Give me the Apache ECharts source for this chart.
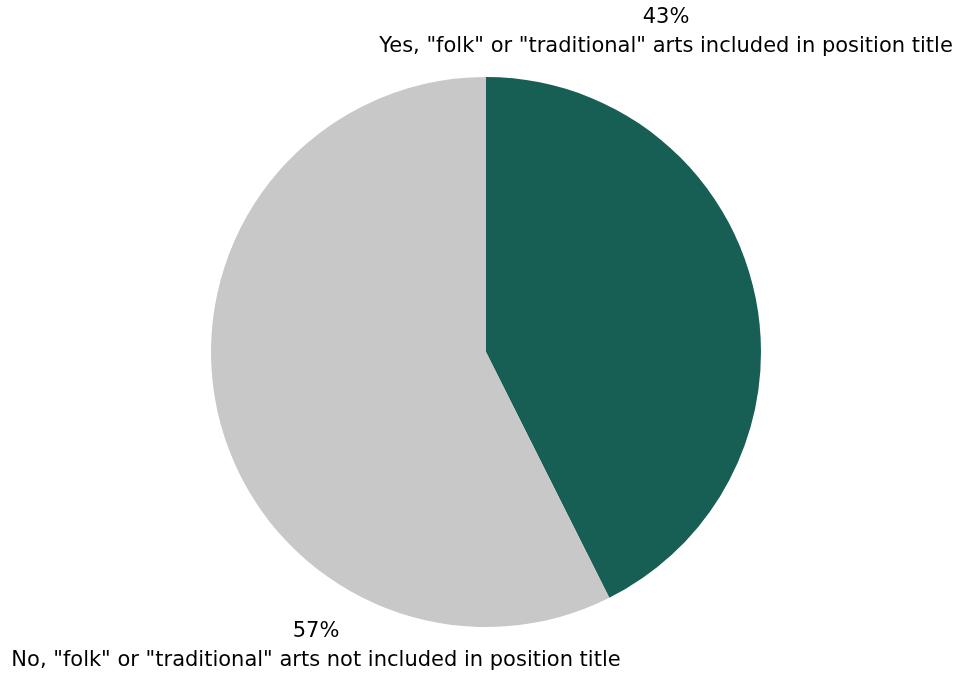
<!DOCTYPE html>
<html><head><meta charset="utf-8">
<script src="https://cdn.jsdelivr.net/npm/echarts@6/dist/echarts.min.js"></script>
<style>html,body{margin:0;padding:0;background:#fff}#c{width:961px;height:675px}</style>
</head><body><div id="c"></div>
<script>
const categories = ['Yes, "folk" or "traditional" arts included in position title', 'No, "folk" or "traditional" arts not included in position title'];
const values = [42.6, 57.4];
const colors = ['#175E54', '#C8C8C8'];
const labelSpots = [[666, 32], [316, 646]];

const chart = echarts.init(document.getElementById('c'));
chart.setOption({
  animation: false,
  series: [{
    type: 'pie',
    center: [486, 352],
    radius: [0, 275],
    startAngle: 90,
    clockwise: true,
    data: categories.map((n, i) => ({ name: n, value: values[i], itemStyle: { color: colors[i] } })),
    label: {
      show: true,
      position: 'outside',
      formatter: p => Math.round(p.percent) + '%\n' + p.name,
      fontFamily: 'DejaVu Sans',
      fontSize: 21,
      lineHeight: 29,
      color: '#000',
      align: 'center',
      width: 900,
      overflow: 'none'
    },
    labelLine: { show: false },
    labelLayout: function (p) {
      const s = labelSpots[p.dataIndex];
      return { x: s[0], y: s[1], align: 'center', verticalAlign: 'middle' };
    },
    emphasis: { disabled: true }
  }]
});
</script></body></html>
